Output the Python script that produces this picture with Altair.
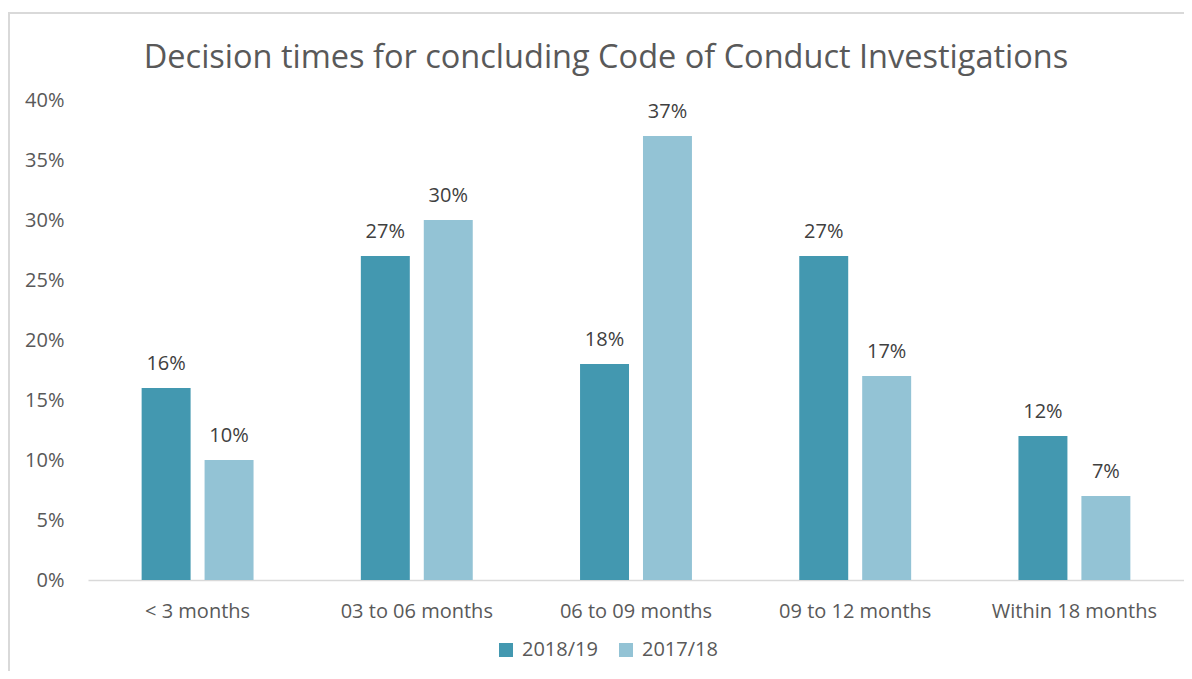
import altair as alt
import pandas as pd

categories = ["< 3 months", "03 to 06 months", "06 to 09 months", "09 to 12 months", "Within 18 months"]
series = ["2018/19", "2017/18"]
values_2018_19 = [0.16, 0.27, 0.18, 0.27, 0.12]
values_2017_18 = [0.10, 0.30, 0.37, 0.17, 0.07]
colors = ["#4398B0", "#93C3D5"]
y_ticks = [0, 0.05, 0.10, 0.15, 0.20, 0.25, 0.30, 0.35, 0.40]
title_text = "Decision times for concluding Code of Conduct Investigations"

rows = []
for i, c in enumerate(categories):
    rows.append({"category": c, "series": series[0], "value": values_2018_19[i]})
    rows.append({"category": c, "series": series[1], "value": values_2017_18[i]})
df = pd.DataFrame(rows)

FONT = "Open Sans"
GREY = "#595959"
FS = 20

x = alt.X(
    "category:N", sort=categories,
    scale=alt.Scale(paddingInner=0.4895, paddingOuter=0.2447),
    axis=alt.Axis(title=None, labelAngle=0, ticks=False, domainColor="#d9d9d9",
                  domainWidth=1.5, labelFontSize=FS, labelColor=GREY, labelFont=FONT,
                  labelPadding=21),
)
xoff = alt.XOffset("series:N", sort=series, scale=alt.Scale(paddingInner=0.222, paddingOuter=0))
y = alt.Y(
    "value:Q", scale=alt.Scale(domain=[0, 0.4]),
    axis=alt.Axis(title=None, format=".0%", values=y_ticks, grid=False, domain=False,
                  ticks=False, labelPadding=24, labelFontSize=FS, labelColor=GREY,
                  labelFont=FONT),
)
color = alt.Color(
    "series:N", sort=series,
    scale=alt.Scale(domain=series, range=colors),
    legend=alt.Legend(title=None, orient="none", legendX=408, legendY=540,
                      direction="horizontal", symbolType="square", symbolSize=196,
                      symbolStrokeWidth=0, labelFontSize=FS, labelColor=GREY,
                      labelFont=FONT, columnPadding=18, labelOffset=6),
)

base = alt.Chart(df)
bars = base.mark_bar().encode(x=x, xOffset=xoff, y=y, color=color)
labels = base.mark_text(baseline="alphabetic", dy=-18, fontSize=FS, color="#404040", font=FONT).encode(
    x=x, xOffset=xoff, y=y, text=alt.Text("value:Q", format=".0%")
)

one = pd.DataFrame({"t": [title_text]})
frame = alt.Chart(one).mark_rect(
    fill="white", fillOpacity=0, stroke="#d9d9d9", strokeWidth=2
).encode(x=alt.value(-79), y=alt.value(-87), x2=alt.value(1200), y2=alt.value(700))

title = alt.Chart(one).mark_text(
    fontSize=32.5, color=GREY, font=FONT, baseline="alphabetic", align="center"
).encode(x=alt.value(518), y=alt.value(-32), text="t:N")

chart = alt.layer(frame, title, bars, labels).properties(
    width=1096, height=480,
    padding={"left": 80, "top": 92, "right": 0, "bottom": 91},
    autosize=alt.AutoSizeParams(type="none"),
    background="white",
).configure_view(stroke="transparent", strokeWidth=0)

chart.save("out.html", embed_options={"renderer": "svg", "actions": False})
